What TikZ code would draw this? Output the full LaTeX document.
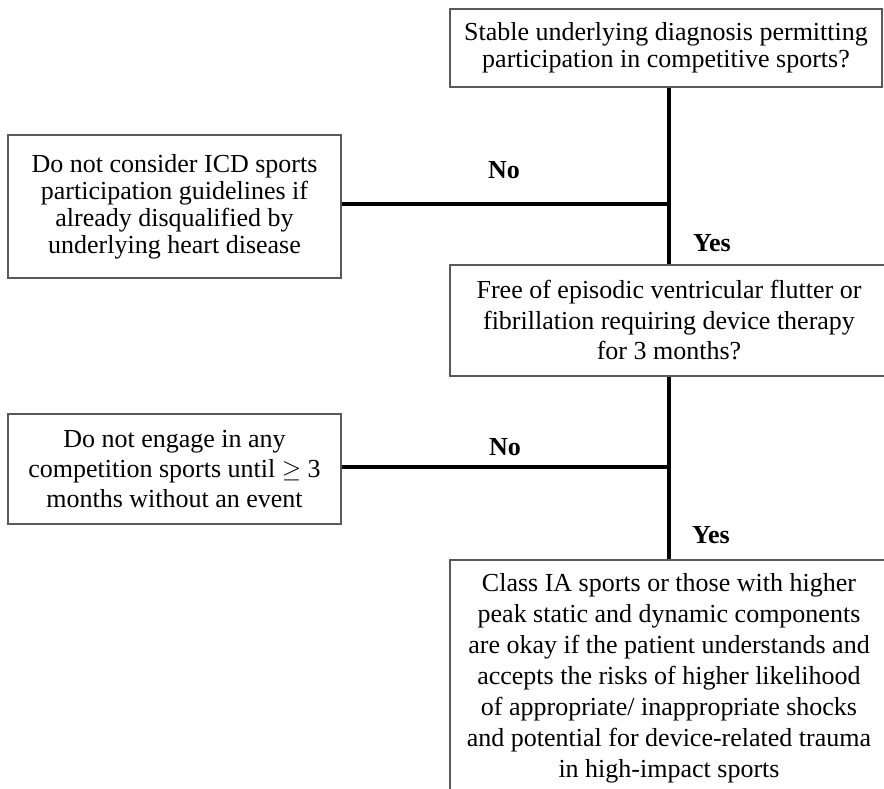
\documentclass[tikz,border=0pt]{standalone}
\usepackage{fontspec}
\setmainfont{Liberation Serif}
\begin{document}
\begin{tikzpicture}[x=1pt,y=-1pt,
  box/.style={draw=black!65,line width=1.3pt,align=center,inner sep=0pt,anchor=center},
  conn/.style={line width=4pt,black},
  lbl/.style={font=\fontsize{26}{26}\selectfont\bfseries,inner sep=0pt}]
\clip (0,0) rectangle (884,789);
\fill[white] (0,0) rectangle (884,789);
\node[box,minimum width=432,minimum height=78,font=\fontsize{26}{27}\selectfont]
  (q1) at (666,48) {Stable underlying diagnosis permitting\\participation in competitive sports?};
\node[box,minimum width=333,minimum height=143,font=\fontsize{26}{27}\selectfont]
  (n1) at (174.5,206.5) {Do not consider ICD sports\\participation guidelines if\\already disqualified by\\underlying heart disease};
\node[box,minimum width=438,minimum height=111,font=\fontsize{26}{30.5}\selectfont]
  (q2) at (669,320.5) {Free of episodic ventricular flutter or\\fibrillation requiring device therapy\\for 3 months?};
\node[box,minimum width=333,minimum height=110,font=\fontsize{26}{30}\selectfont]
  (n2) at (174.5,469) {Do not engage in any\\competition sports until $\geq$ 3\\months without an event};
\node[box,minimum width=438,minimum height=236,font=\fontsize{26}{31}\selectfont]
  (q3) at (669,678) {Class IA sports or those with higher\\peak static and dynamic components\\are okay if the patient understands and\\accepts the risks of higher likelihood\\of appropriate/ inappropriate shocks\\and potential for device-related trauma\\in high-impact sports};
\coordinate (e1) at ([yshift=2.5pt]n1.east);
\coordinate (e2) at ([yshift=2pt]n2.east);
\coordinate (j1) at (q2.north |- e1);
\coordinate (j2) at (q2.north |- e2);
\draw[conn] (q2.north |- q1.south) -- (q2.north);
\draw[conn] (e1) -- (j1);
\draw[conn] (q2.south) -- (q3.north);
\draw[conn] (e2) -- (j2);
\node[lbl] (no1) at (504,170) {No};
\node[lbl] (yes1) at (712,243) {Yes};
\node[lbl] (no2) at (505,447) {No};
\node[lbl] (yes2) at (711,535) {Yes};
\end{tikzpicture}
\end{document}
